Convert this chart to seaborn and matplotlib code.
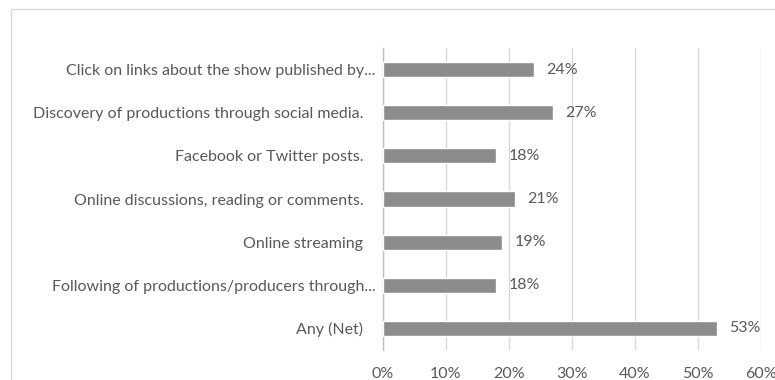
import matplotlib
matplotlib.use("Agg")
import matplotlib.pyplot as plt
from matplotlib.patches import Rectangle
import seaborn as sns
import pandas as pd

categories = [
    "Click on links about the show published by...",
    "Discovery of productions through social media.   ",
    "Facebook or Twitter posts.   ",
    "Online discussions, reading or comments.   ",
    "Online streaming   ",
    "Following of productions/producers through...",
    "Any (Net)   ",
]
values = [24, 27, 18, 21, 19, 18, 53]
x_ticks = [0, 10, 20, 30, 40, 50, 60]

sns.set_theme(style="white")
plt.rcParams["font.family"] = ["Lato", "DejaVu Sans"]

text_color = "#595959"
bar_color = "#8c8c8c"
grid_color = "#d9d9d9"
font_size = 11.5

df = pd.DataFrame({"category": categories, "value": values})

fig = plt.figure(figsize=(7.75, 3.8), dpi=100)
fig.patch.set_facecolor("white")
# chart frame
fig.patches.append(Rectangle((11 / 775, -0.2), 1.0, 1.2 - 9 / 380,
                             transform=fig.transFigure, fill=False,
                             edgecolor=grid_color, linewidth=1.0))

ax = fig.add_axes([382.7 / 775, 1 - 350 / 380, (760.7 - 382.7) / 775, (350 - 48) / 380])
sns.barplot(data=df, x="value", y="category", orient="h", color=bar_color,
            width=0.35, saturation=1, ax=ax, zorder=3)

ax.set_xlim(0, 60)
ax.set_ylim(6.5, -0.5)
ax.set_xticks(x_ticks)
ax.set_xticklabels([f"{t}%" for t in x_ticks])
ax.set_xlabel("")
ax.set_ylabel("")
ax.xaxis.grid(True, color=grid_color, linewidth=1.0, zorder=0)
ax.set_axisbelow(True)
for side in ["top", "right", "bottom"]:
    ax.spines[side].set_visible(False)
ax.spines["left"].set_color("#bfbfbf")
ax.spines["left"].set_linewidth(1.0)
ax.tick_params(axis="both", length=0, colors=text_color, labelsize=font_size)
ax.tick_params(axis="y", pad=5)
ax.tick_params(axis="x", pad=12)

ax.bar_label(ax.containers[0], labels=[f"{v}%" for v in values],
             padding=9, color=text_color, fontsize=font_size)

fig.savefig("out.png", dpi=100, facecolor="white")
